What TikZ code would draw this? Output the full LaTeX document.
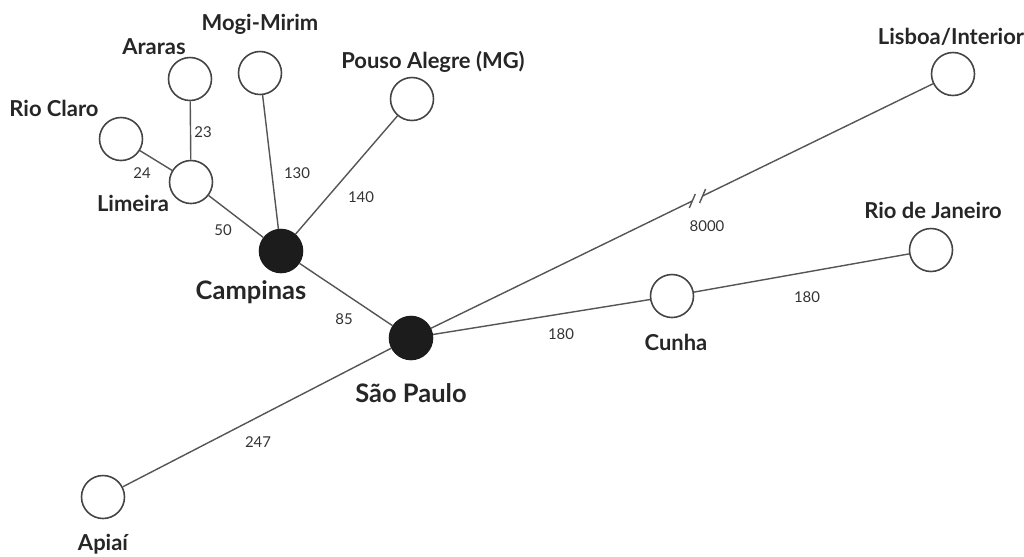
\documentclass[tikz,border=0pt]{standalone}
\usepackage{fontspec}
\setmainfont{Lato}
\usetikzlibrary{calc}
\definecolor{linec}{HTML}{555555}
\definecolor{circc}{HTML}{444444}
\definecolor{fillc}{HTML}{1C1C1C}
\tikzset{
  city/.style={circle,draw=circc,line width=0.9pt,fill=white,minimum size=0.86cm,inner sep=0pt},
  hub/.style={circle,draw=fillc,line width=0.9pt,fill=fillc,minimum size=0.86cm,inner sep=0pt},
  lbl/.style={font=\bfseries\fontsize{12.5}{14}\selectfont,text=black!85,inner sep=0pt},
  hublbl/.style={font=\bfseries\fontsize{14.5}{16}\selectfont,text=black!85,inner sep=0pt},
  dist/.style={font=\fontsize{8.5}{10}\selectfont,text=black!80,inner sep=0pt},
  link/.style={draw=linec,line width=0.8pt}
}
\begin{document}
\begin{tikzpicture}[x=0.02cm,y=-0.02cm]
\useasboundingbox (0,0) rectangle (1024,556);
% nodes
\node[city] (rc) at (121,139) {};
\node[city] (ar) at (190,79) {};
\node[city] (mm) at (260,73) {};
\node[city] (pa) at (412,99) {};
\node[city] (li) at (191,182) {};
\node[hub]  (ca) at (281,251) {};
\node[hub]  (sp) at (411,338) {};
\node[city] (lb) at (953,74) {};
\node[city] (rj) at (931,250) {};
\node[city] (cu) at (672,296) {};
\node[city] (ap) at (103,497) {};
% labels
\node[lbl] (trc) at (54,108) {Rio Claro};
\node[lbl] (tar) at (154,47) {Araras};
\node[lbl] (tmm) at (260,24) {Mogi-Mirim};
\node[lbl] (tpa) at (433,62) {Pouso Alegre (MG)};
\node[lbl] (tli) at (133,203) {Limeira};
\node[hublbl] (tca) at (251,292) {Campinas};
\node[hublbl] (tsp) at (411,393) {São Paulo};
\node[lbl] (tlb) at (951,37) {Lisboa/Interior};
\node[lbl] (trj) at (933,210) {Rio de Janeiro};
\node[lbl] (tcu) at (676,342) {Cunha};
\node[lbl] (tap) at (103,544) {Apiaí};
% connectors
\draw[link] (rc) -- (li);
\draw[link] (ar) -- (li);
\draw[link] (li) -- (ca);
\draw[link] (mm) -- (ca);
\draw[link] (pa) -- (ca);
\draw[link] (ca) -- (sp);
\draw[link] (sp) -- (cu);
\draw[link] (cu) -- (rj);
\draw[link] (sp) -- (ap);
\coordinate (b1) at ($(sp)!0.519!(lb)$);
\coordinate (b2) at ($(sp)!0.538!(lb)$);
\draw[link] (sp) -- (b1);
\draw[link] (b2) -- (lb);
\draw[link] ($(b1)+(-3,7)$) -- ($(b1)+(3,-7)$);
\draw[link] ($(b2)+(-3,7)$) -- ($(b2)+(3,-7)$);
% distances
\node[dist] (d23) at (203,132) {23};
\node[dist] (d24) at (142,173) {24};
\node[dist] (d130) at (297,173) {130};
\node[dist] (d140) at (361,197) {140};
\node[dist] (d50) at (223,230) {50};
\node[dist] (d85) at (344,319) {85};
\node[dist] (d8000) at (707,226) {8000};
\node[dist] (d180a) at (561,334) {180};
\node[dist] (d180b) at (807,297) {180};
\node[dist] (d247) at (258,442) {247};
\end{tikzpicture}
\end{document}
